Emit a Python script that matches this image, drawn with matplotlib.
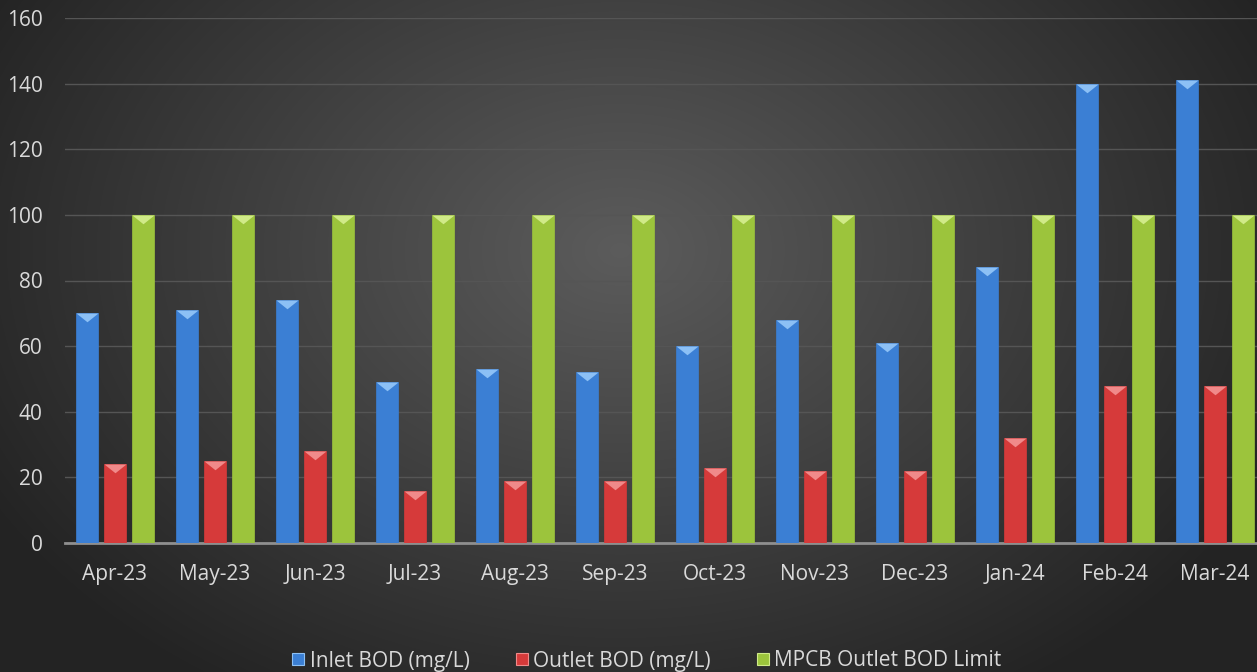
import numpy as np
import matplotlib

matplotlib.use("Agg")

import matplotlib.pyplot as plt
from matplotlib.path import Path
from matplotlib.lines import Line2D

plt.rcParams["font.family"] = ["Open Sans", "DejaVu Sans"]

months = ["Apr-23", "May-23", "Jun-23", "Jul-23", "Aug-23", "Sep-23",
          "Oct-23", "Nov-23", "Dec-23", "Jan-24", "Feb-24", "Mar-24"]
inlet_bod = [70, 71, 74, 49, 53, 52, 60, 68, 61, 84, 140, 141]
outlet_bod = [24, 25, 28, 16, 19, 19, 23, 22, 22, 32, 48, 48]
mpcb_limit = [100, 100, 100, 100, 100, 100, 100, 100, 100, 100, 100, 100]
y_ticks = [0, 20, 40, 60, 80, 100, 120, 140, 160]

series = [
    ("Inlet BOD (mg/L)", inlet_bod, "#3b7fd4", "#8cc0f5"),
    ("Outlet BOD (mg/L)", outlet_bod, "#d63a3a", "#f08a8a"),
    ("MPCB Outlet BOD Limit", mpcb_limit, "#9cc43c", "#d0ea88"),
]

W, H = 1257, 672
fig = plt.figure(figsize=(W / 100, H / 100), dpi=100)

# radial dark background
bg = fig.add_axes([0, 0, 1, 1], zorder=-10)
yy, xx = np.mgrid[0:H, 0:W]
r = np.sqrt(((xx - 620) / 720.0) ** 2 + ((yy - 250) / 520.0) ** 2)
shade = np.clip(0.36 - 0.22 * r, 0.14, 0.36)
bg.imshow(np.dstack([shade] * 3), aspect="auto", extent=[0, 1, 0, 1])
bg.axis("off")

ax = fig.add_axes([65 / W, 1 - 543 / H, (W - 65) / W, (543 - 18) / H])
ax.patch.set_alpha(0)

x = np.arange(len(months))
width = 0.22
offsets = [-0.28, 0.0, 0.28]

# downward triangle used for the bevelled bar tops
tri = Path([(-1, 0), (1, 0), (0, -0.8), (-1, 0)],
           [Path.MOVETO, Path.LINETO, Path.LINETO, Path.CLOSEPOLY])

handles = []
for (name, vals, col, light), off in zip(series, offsets):
    ax.bar(x + off, vals, width=width, color=col, edgecolor=col,
           linewidth=0.5, zorder=3)
    ax.plot(x + off, vals, linestyle="none", marker=tri, markersize=15.8,
            markerfacecolor=light, markeredgewidth=0, zorder=4)
    handles.append(Line2D([], [], linestyle="none", marker="s", markersize=8,
                          markerfacecolor=col, markeredgecolor=light,
                          markeredgewidth=0.8, label=name))

ax.set_xlim(-0.5, -0.5 + (W - 65) / 100)
ax.set_ylim(0, 160)
ax.set_yticks(y_ticks)
ax.set_xticks(x)
ax.set_xticklabels(months)
ax.grid(axis="y", color="#555555", linewidth=1, zorder=0)
ax.set_axisbelow(True)
for side in ["top", "right", "left"]:
    ax.spines[side].set_visible(False)
ax.spines["bottom"].set_color("#8f8f8f")
ax.spines["bottom"].set_linewidth(2)
ax.tick_params(axis="both", length=0, colors="#d9d9d9", labelsize=15)
ax.tick_params(axis="x", pad=15)
ax.tick_params(axis="y", pad=16)

fig.legend(handles=handles, loc="center", bbox_to_anchor=(0.513, 1 - 661 / H),
           ncol=3, frameon=False, fontsize=15, labelcolor="#d9d9d9",
           handletextpad=0.05, columnspacing=2.0, handlelength=1.0)

fig.savefig("out.png", dpi=100)
